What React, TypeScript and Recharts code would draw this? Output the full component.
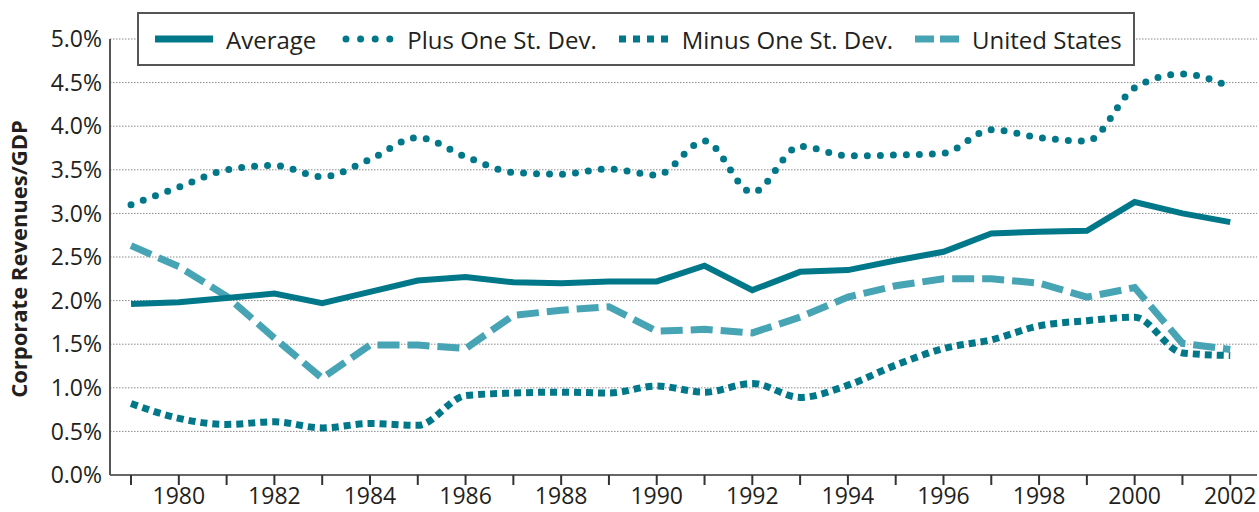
import { LineChart, Line, XAxis, YAxis, CartesianGrid, Legend } from 'recharts';

const years = [1979, 1980, 1981, 1982, 1983, 1984, 1985, 1986, 1987, 1988, 1989, 1990, 1991, 1992, 1993, 1994, 1995, 1996, 1997, 1998, 1999, 2000, 2001, 2002];
const average = [1.96, 1.98, 2.03, 2.08, 1.97, 2.1, 2.23, 2.27, 2.21, 2.2, 2.22, 2.22, 2.4, 2.12, 2.33, 2.35, 2.46, 2.56, 2.77, 2.79, 2.8, 3.13, 3.0, 2.9];
const plusOne = [3.1, 3.3, 3.5, 3.55, 3.42, 3.62, 3.87, 3.65, 3.47, 3.45, 3.51, 3.44, 3.83, 3.24, 3.77, 3.66, 3.67, 3.69, 3.96, 3.87, 3.83, 4.44, 4.6, 4.45];
const minusOne = [0.82, 0.65, 0.58, 0.61, 0.54, 0.59, 0.57, 0.91, 0.94, 0.95, 0.94, 1.02, 0.95, 1.05, 0.89, 1.03, 1.26, 1.45, 1.55, 1.71, 1.77, 1.81, 1.4, 1.37];
const unitedStates = [2.63, 2.39, 2.05, 1.57, 1.11, 1.49, 1.49, 1.45, 1.83, 1.89, 1.93, 1.65, 1.67, 1.63, 1.81, 2.04, 2.17, 2.25, 2.25, 2.2, 2.04, 2.15, 1.51, 1.44];
const yTicks = [0, 0.5, 1, 1.5, 2, 2.5, 3, 3.5, 4, 4.5, 5];

const DARK = '#00788a';
const LIGHT = '#46a4b4';
const FONT = '"Open Sans", sans-serif';

const data = years.map((year, i) => ({
  year,
  average: average[i],
  plusOne: plusOne[i],
  minusOne: minusOne[i],
  us: unitedStates[i],
}));

function LegendBox() {
  const item = (icon: any, label: string, gap: number) => (
    <div style={{ display: 'flex', alignItems: 'center', marginRight: gap }}>
      {icon}
      <span style={{ marginLeft: 13 }}>{label}</span>
    </div>
  );
  return (
    <div
      style={{
        boxSizing: 'border-box',
        width: 998,
        height: 54,
        border: '2px solid #555',
        background: '#fff',
        display: 'flex',
        alignItems: 'center',
        paddingLeft: 16,
        fontFamily: FONT,
        fontSize: 24,
        color: '#231f20',
      }}
    >
      {item(
        <svg width={58} height={10}><line x1={0} y1={5} x2={58} y2={5} stroke={DARK} strokeWidth={7} /></svg>,
        'Average', 26
      )}
      {item(
        <svg width={52} height={10}><line x1={4} y1={5} x2={48} y2={5} stroke={DARK} strokeWidth={7} strokeLinecap="round" strokeDasharray="0 14.6" /></svg>,
        'Plus One St. Dev.', 22
      )}
      {item(
        <svg width={50} height={10}><line x1={0} y1={5} x2={50} y2={5} stroke={DARK} strokeWidth={7} strokeDasharray="7 7" /></svg>,
        'Minus One St. Dev.', 22
      )}
      {item(
        <svg width={44} height={10}><line x1={0} y1={5} x2={44} y2={5} stroke={LIGHT} strokeWidth={7} strokeDasharray="19 6" /></svg>,
        'United States', 0
      )}
    </div>
  );
}

export default function App() {
  return (
    <div style={{ position: 'absolute', left: 0, top: 0, width: 1259, height: 512, background: '#fff' }}>
      <LineChart width={1259} height={512} data={data} margin={{ top: 39, right: 2, bottom: 7, left: 0 }}>
        <CartesianGrid vertical={false} stroke="#8a8a8a" strokeDasharray="1.5 1.5" />
        <XAxis
          dataKey="year"
          type="number"
          height={30}
          domain={[1978.56, 2002.56]}
          ticks={years}
          interval={0}
          tickFormatter={(v: number) => (v % 2 === 0 ? String(v) : '')}
          stroke="#666"
          strokeWidth={2}
          tickSize={10}
          tickMargin={3}
          tick={{ fill: '#231f20', fontSize: 23, fontFamily: FONT }}
          tickLine={{ stroke: '#333', strokeWidth: 2 }}
        />
        <YAxis
          width={110}
          domain={[0, 5]}
          ticks={yTicks}
          interval={0}
          tickFormatter={(v: number) => v.toFixed(1) + '%'}
          stroke="#555"
          strokeWidth={2}
          tickLine={false}
          tick={{ fill: '#231f20', fontSize: 23, fontFamily: FONT }}
          label={{
            content: () => (
              <text
                x={0}
                y={0}
                transform="translate(27 259) rotate(-90)"
                textAnchor="middle"
                fontFamily={FONT}
                fontWeight="bold"
                fontSize={22}
                fill="#231f20"
              >
                Corporate Revenues/GDP
              </text>
            ),
          }}
        />
        <Legend
          layout="horizontal"
          verticalAlign="middle"
          align="center"
          wrapperStyle={{ top: 12, left: 137, width: 998, height: 54 }}
          content={() => <LegendBox />}
        />
        <Line type="monotone" dataKey="plusOne" stroke={DARK} strokeWidth={7} strokeLinecap="round" strokeDasharray="0 13" dot={false} isAnimationActive={false} />
        <Line type="monotone" dataKey="minusOne" stroke={DARK} strokeWidth={7} strokeDasharray="7 5" dot={false} isAnimationActive={false} />
        <Line type="linear" dataKey="us" stroke={LIGHT} strokeWidth={7} strokeDasharray="22 8" dot={false} isAnimationActive={false} />
        <Line type="linear" dataKey="average" stroke={DARK} strokeWidth={6} dot={false} isAnimationActive={false} />
      </LineChart>
    </div>
  );
}
